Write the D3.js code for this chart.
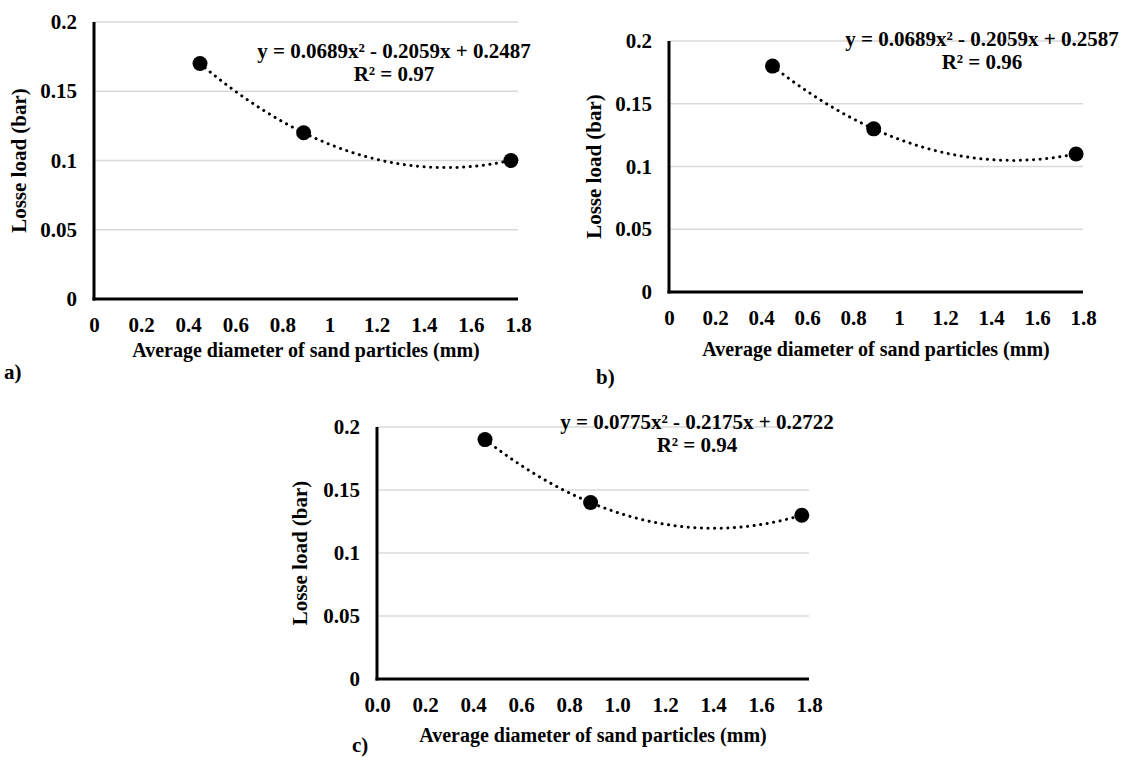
<!DOCTYPE html>
<html>
<head>
<meta charset="utf-8">
<script src="https://cdn.jsdelivr.net/npm/d3@7"></script>
<style>
  body { margin: 0; background: #fff; }
  svg { display: block; }
  text { font-family: "Liberation Serif", "Times New Roman", serif; font-weight: bold; fill: #000; }
</style>
</head>
<body>
<svg id="chart" width="1125" height="758"></svg>
<script>
// values
const diameters = [0.45, 0.89, 1.77];
const lossA = [0.17, 0.12, 0.10];
const lossB = [0.18, 0.13, 0.11];
const lossC = [0.19, 0.14, 0.13];

const coefA = [0.0689, -0.2059, 0.2487];
const coefB = [0.0689, -0.2059, 0.2587];
const coefC = [0.0775, -0.2175, 0.2722];

const eqA = ["y = 0.0689x² - 0.2059x + 0.2487", "R² = 0.97"];
const eqB = ["y = 0.0689x² - 0.2059x + 0.2587", "R² = 0.96"];
const eqC = ["y = 0.0775x² - 0.2175x + 0.2722", "R² = 0.94"];

const xTicks = [0, 0.2, 0.4, 0.6, 0.8, 1, 1.2, 1.4, 1.6, 1.8];
const yTicks = [0, 0.05, 0.1, 0.15, 0.2];

const xTitle = "Average diameter of sand particles (mm)";
const yTitle = "Losse load (bar)";

const svg = d3.select("#chart");

const panels = [
  { values: lossA, coef: coefA, eq: eqA, tag: "a)",
    left: 94, right: 518, top: 22, bottom: 299,
    xFmt: d => String(d), eqX: 394, eqY: 58, tagX: 4, tagY: 379, yTitleX: 26, titleY: 357 },
  { values: lossB, coef: coefB, eq: eqB, tag: "b)",
    left: 669, right: 1083, top: 41, bottom: 292,
    xFmt: d => String(d), eqX: 982, eqY: 46, tagX: 596, tagY: 384, yTitleX: 601, titleY: 356 },
  { values: lossC, coef: coefC, eq: eqC, tag: "c)",
    left: 377, right: 809, top: 427, bottom: 679,
    xFmt: d3.format(".1f"), eqX: 697, eqY: 429, tagX: 352, tagY: 752, yTitleX: 307, titleY: 742 }
];

panels.forEach(p => {
  const x = d3.scaleLinear().domain([0, 1.8]).range([p.left, p.right]);
  const y = d3.scaleLinear().domain([0, 0.2]).range([p.bottom, p.top]);
  const g = svg.append("g");

  // gridlines
  g.append("g")
    .selectAll("line")
    .data(yTicks.filter(d => d > 0))
    .join("line")
    .attr("x1", p.left).attr("x2", p.right)
    .attr("y1", d => y(d)).attr("y2", d => y(d))
    .attr("stroke", "#d9d9d9")
    .attr("stroke-width", 1.5);

  // axes
  const ax = g.append("g")
    .attr("transform", `translate(0,${p.bottom})`)
    .call(d3.axisBottom(x).tickValues(xTicks).tickSize(0).tickPadding(18).tickFormat(p.xFmt));
  ax.select(".domain").remove();
  ax.selectAll("text").attr("font-size", 21).attr("fill", "#000").attr("font-family", null);

  const ay = g.append("g")
    .attr("transform", `translate(${p.left},0)`)
    .call(d3.axisLeft(y).tickValues(yTicks).tickSize(0).tickPadding(17).tickFormat(d => String(d)));
  ay.select(".domain").remove();
  ay.selectAll("text").attr("font-size", 21).attr("fill", "#000").attr("font-family", null);

  g.append("line")
    .attr("x1", p.left).attr("x2", p.left)
    .attr("y1", p.top).attr("y2", p.bottom + 1.5)
    .attr("stroke", "#000").attr("stroke-width", 3);
  g.append("line")
    .attr("x1", p.left - 1.5).attr("x2", p.right)
    .attr("y1", p.bottom).attr("y2", p.bottom)
    .attr("stroke", "#000").attr("stroke-width", 3);

  // polynomial trendline
  const [a2, a1, a0] = p.coef;
  const xs = d3.range(diameters[0], diameters[2] + 0.001, 0.01);
  g.append("path")
    .datum(xs)
    .attr("fill", "none")
    .attr("stroke", "#000")
    .attr("stroke-width", 3)
    .attr("stroke-linecap", "round")
    .attr("stroke-dasharray", "0.1 6.5")
    .attr("d", d3.line().x(d => x(d)).y(d => y(a2 * d * d + a1 * d + a0)));

  // points
  g.append("g")
    .selectAll("circle")
    .data(diameters.map((d, i) => [d, p.values[i]]))
    .join("circle")
    .attr("cx", d => x(d[0]))
    .attr("cy", d => y(d[1]))
    .attr("r", 7.5)
    .attr("fill", "#000");

  // equation
  g.append("text")
    .attr("x", p.eqX).attr("y", p.eqY)
    .attr("text-anchor", "middle").attr("font-size", 21)
    .text(p.eq[0]);
  g.append("text")
    .attr("x", p.eqX).attr("y", p.eqY + 23)
    .attr("text-anchor", "middle").attr("font-size", 21)
    .text(p.eq[1]);

  // axis titles
  g.append("text")
    .attr("x", (p.left + p.right) / 2).attr("y", p.titleY)
    .attr("text-anchor", "middle").attr("font-size", 20)
    .text(xTitle);
  g.append("text")
    .attr("transform", `translate(${p.yTitleX},${(p.top + p.bottom) / 2}) rotate(-90)`)
    .attr("text-anchor", "middle").attr("font-size", 21)
    .text(yTitle);

  g.append("text")
    .attr("x", p.tagX).attr("y", p.tagY)
    .attr("font-size", 21)
    .text(p.tag);
});
</script>
</body>
</html>
